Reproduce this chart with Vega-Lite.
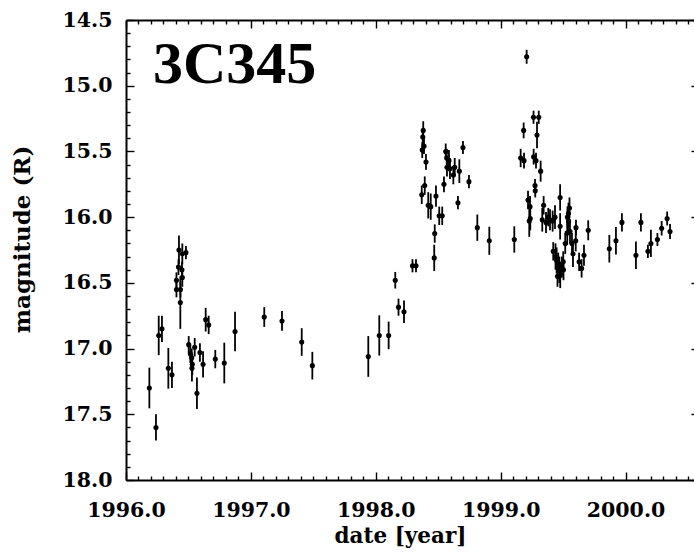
{
  "$schema": "https://vega.github.io/schema/vega-lite/v6.json",
  "width": 568,
  "height": 460,
  "autosize": {"type": "none"},
  "padding": {"left": 126, "top": 20, "right": 0, "bottom": 74},
  "background": "white",
  "config": {"view": {"stroke": null}},
  "datasets": {
    "obs": [
      {"t": 1996.187, "m": 17.30, "e": 0.155},
      {"t": 1996.240, "m": 17.60, "e": 0.10},
      {"t": 1996.262, "m": 16.90, "e": 0.15},
      {"t": 1996.288, "m": 16.85, "e": 0.10},
      {"t": 1996.339, "m": 17.15, "e": 0.155},
      {"t": 1996.368, "m": 17.20, "e": 0.10},
      {"t": 1996.404, "m": 16.48, "e": 0.06},
      {"t": 1996.404, "m": 16.55, "e": 0.06},
      {"t": 1996.420, "m": 16.38, "e": 0.06},
      {"t": 1996.424, "m": 16.25, "e": 0.11},
      {"t": 1996.436, "m": 16.55, "e": 0.06},
      {"t": 1996.435, "m": 16.65, "e": 0.20},
      {"t": 1996.448, "m": 16.40, "e": 0.06},
      {"t": 1996.451, "m": 16.46, "e": 0.07},
      {"t": 1996.451, "m": 16.28, "e": 0.08},
      {"t": 1996.480, "m": 16.27, "e": 0.05},
      {"t": 1996.502, "m": 16.97, "e": 0.065},
      {"t": 1996.515, "m": 17.04, "e": 0.07},
      {"t": 1996.526, "m": 17.07, "e": 0.07},
      {"t": 1996.531, "m": 17.12, "e": 0.08},
      {"t": 1996.528, "m": 17.15, "e": 0.10},
      {"t": 1996.550, "m": 16.99, "e": 0.07},
      {"t": 1996.568, "m": 17.34, "e": 0.12},
      {"t": 1996.592, "m": 17.03, "e": 0.07},
      {"t": 1996.617, "m": 17.12, "e": 0.10},
      {"t": 1996.638, "m": 16.78, "e": 0.09},
      {"t": 1996.662, "m": 16.82, "e": 0.07},
      {"t": 1996.715, "m": 17.08, "e": 0.07},
      {"t": 1996.787, "m": 17.11, "e": 0.155},
      {"t": 1996.873, "m": 16.87, "e": 0.15},
      {"t": 1997.107, "m": 16.76, "e": 0.075},
      {"t": 1997.249, "m": 16.79, "e": 0.075},
      {"t": 1997.407, "m": 16.95, "e": 0.105},
      {"t": 1997.492, "m": 17.13, "e": 0.105},
      {"t": 1997.940, "m": 17.06, "e": 0.155},
      {"t": 1998.028, "m": 16.90, "e": 0.153},
      {"t": 1998.103, "m": 16.90, "e": 0.105},
      {"t": 1998.156, "m": 16.48, "e": 0.063},
      {"t": 1998.182, "m": 16.685, "e": 0.065},
      {"t": 1998.226, "m": 16.72, "e": 0.085},
      {"t": 1998.294, "m": 16.37, "e": 0.05},
      {"t": 1998.322, "m": 16.37, "e": 0.05},
      {"t": 1998.368, "m": 15.83, "e": 0.07},
      {"t": 1998.372, "m": 15.49, "e": 0.06},
      {"t": 1998.376, "m": 15.39, "e": 0.06},
      {"t": 1998.380, "m": 15.34, "e": 0.07},
      {"t": 1998.386, "m": 15.46, "e": 0.06},
      {"t": 1998.392, "m": 15.76, "e": 0.07},
      {"t": 1998.402, "m": 15.58, "e": 0.06},
      {"t": 1998.420, "m": 15.91, "e": 0.10},
      {"t": 1998.440, "m": 15.92, "e": 0.10},
      {"t": 1998.468, "m": 16.31, "e": 0.10},
      {"t": 1998.472, "m": 16.125, "e": 0.07},
      {"t": 1998.482, "m": 15.84, "e": 0.08},
      {"t": 1998.508, "m": 15.99, "e": 0.07},
      {"t": 1998.532, "m": 15.99, "e": 0.07},
      {"t": 1998.546, "m": 15.75, "e": 0.06},
      {"t": 1998.560, "m": 15.50, "e": 0.06},
      {"t": 1998.568, "m": 15.55, "e": 0.07},
      {"t": 1998.570, "m": 15.62, "e": 0.07},
      {"t": 1998.586, "m": 15.57, "e": 0.08},
      {"t": 1998.594, "m": 15.63, "e": 0.08},
      {"t": 1998.621, "m": 15.68, "e": 0.07},
      {"t": 1998.632, "m": 15.62, "e": 0.07},
      {"t": 1998.658, "m": 15.89, "e": 0.05},
      {"t": 1998.669, "m": 15.65, "e": 0.09},
      {"t": 1998.698, "m": 15.47, "e": 0.05},
      {"t": 1998.746, "m": 15.73, "e": 0.05},
      {"t": 1998.813, "m": 16.08, "e": 0.10},
      {"t": 1998.909, "m": 16.18, "e": 0.107},
      {"t": 1999.109, "m": 16.17, "e": 0.10},
      {"t": 1999.160, "m": 15.55, "e": 0.07},
      {"t": 1999.184, "m": 15.34, "e": 0.06},
      {"t": 1999.187, "m": 15.57, "e": 0.06},
      {"t": 1999.208, "m": 14.78, "e": 0.053},
      {"t": 1999.219, "m": 15.87, "e": 0.07},
      {"t": 1999.229, "m": 16.03, "e": 0.12},
      {"t": 1999.235, "m": 15.92, "e": 0.08},
      {"t": 1999.237, "m": 16.01, "e": 0.09},
      {"t": 1999.263, "m": 15.24, "e": 0.05},
      {"t": 1999.264, "m": 15.54, "e": 0.06},
      {"t": 1999.275, "m": 15.76, "e": 0.05},
      {"t": 1999.277, "m": 15.80, "e": 0.05},
      {"t": 1999.283, "m": 15.57, "e": 0.06},
      {"t": 1999.291, "m": 15.375, "e": 0.10},
      {"t": 1999.305, "m": 15.24, "e": 0.05},
      {"t": 1999.320, "m": 15.65, "e": 0.08},
      {"t": 1999.344, "m": 15.91, "e": 0.07},
      {"t": 1999.333, "m": 16.02, "e": 0.09},
      {"t": 1999.363, "m": 16.04, "e": 0.08},
      {"t": 1999.381, "m": 16.00, "e": 0.07},
      {"t": 1999.395, "m": 16.02, "e": 0.08},
      {"t": 1999.416, "m": 16.03, "e": 0.08},
      {"t": 1999.435, "m": 16.00, "e": 0.09},
      {"t": 1999.421, "m": 16.26, "e": 0.07},
      {"t": 1999.439, "m": 16.30, "e": 0.10},
      {"t": 1999.448, "m": 16.33, "e": 0.10},
      {"t": 1999.461, "m": 16.37, "e": 0.10},
      {"t": 1999.469, "m": 16.40, "e": 0.10},
      {"t": 1999.455, "m": 16.45, "e": 0.08},
      {"t": 1999.477, "m": 16.44, "e": 0.10},
      {"t": 1999.476, "m": 15.85, "e": 0.10},
      {"t": 1999.476, "m": 16.07, "e": 0.10},
      {"t": 1999.489, "m": 16.38, "e": 0.08},
      {"t": 1999.503, "m": 16.40, "e": 0.08},
      {"t": 1999.501, "m": 16.34, "e": 0.08},
      {"t": 1999.517, "m": 16.20, "e": 0.08},
      {"t": 1999.535, "m": 16.00, "e": 0.08},
      {"t": 1999.544, "m": 16.03, "e": 0.08},
      {"t": 1999.543, "m": 15.97, "e": 0.08},
      {"t": 1999.551, "m": 15.93, "e": 0.08},
      {"t": 1999.533, "m": 16.12, "e": 0.09},
      {"t": 1999.555, "m": 16.11, "e": 0.09},
      {"t": 1999.571, "m": 16.20, "e": 0.08},
      {"t": 1999.579, "m": 16.28, "e": 0.10},
      {"t": 1999.603, "m": 16.08, "e": 0.06},
      {"t": 1999.601, "m": 16.18, "e": 0.08},
      {"t": 1999.628, "m": 16.34, "e": 0.07},
      {"t": 1999.648, "m": 16.39, "e": 0.07},
      {"t": 1999.667, "m": 16.29, "e": 0.08},
      {"t": 1999.701, "m": 16.10, "e": 0.076},
      {"t": 1999.870, "m": 16.24, "e": 0.105},
      {"t": 1999.923, "m": 16.18, "e": 0.105},
      {"t": 1999.971, "m": 16.04, "e": 0.07},
      {"t": 2000.083, "m": 16.29, "e": 0.105},
      {"t": 2000.123, "m": 16.04, "e": 0.07},
      {"t": 2000.179, "m": 16.26, "e": 0.05},
      {"t": 2000.203, "m": 16.20, "e": 0.104},
      {"t": 2000.255, "m": 16.17, "e": 0.05},
      {"t": 2000.289, "m": 16.085, "e": 0.055},
      {"t": 2000.333, "m": 16.01, "e": 0.053},
      {"t": 2000.356, "m": 16.11, "e": 0.057}
    ]
  },
  "layer": [
    {
      "data": {"name": "obs"},
      "mark": {"type": "errorbar", "color": "black", "thickness": 1.8},
      "encoding": {
        "x": {
          "field": "t", "type": "quantitative",
          "scale": {"domain": [1996, 2000.548], "nice": false, "zero": false},
          "axis": {
            "orient": "bottom", "title": "date [year]", "tickCount": 45,
            "labelExpr": "abs(datum.value - round(datum.value)) < 0.001 ? format(round(datum.value), '.1f') : ''",
            "labelFlush": false, "labelOverlap": false,
            "labelFont": "DejaVu Serif", "labelFontWeight": "bold", "labelFontSize": 20.5, "labelColor": "black",
            "labelPadding": 28,
            "tickSize": {"condition": {"test": "abs(datum.value - round(datum.value)) < 0.001", "value": -8}, "value": -4},
            "tickColor": "black", "tickWidth": 1.4,
            "domainColor": "black", "domainWidth": 2, "grid": false,
            "titleFont": "DejaVu Serif", "titleFontWeight": "bold", "titleFontSize": 21.5, "titleColor": "black",
            "titleX": 274, "titleY": 62, "titleBaseline": "alphabetic", "titleAlign": "center"
          }
        },
        "y": {
          "field": "m", "type": "quantitative",
          "scale": {"domain": [14.5, 18], "reverse": true, "nice": false, "zero": false},
          "axis": {
            "orient": "left", "title": "magnitude (R)", "tickCount": 35,
            "labelExpr": "abs(datum.value * 2 - round(datum.value * 2)) < 0.001 ? format(datum.value, '.1f') : ''",
            "labelFlush": false, "labelOverlap": false,
            "labelFont": "DejaVu Serif", "labelFontWeight": "bold", "labelFontSize": 20.5, "labelColor": "black",
            "labelPadding": 22,
            "tickSize": {"condition": {"test": "abs(datum.value * 2 - round(datum.value * 2)) < 0.001", "value": -8}, "value": -4},
            "tickColor": "black", "tickWidth": 1.4,
            "domainColor": "black", "domainWidth": 2, "grid": false,
            "titleFont": "DejaVu Serif", "titleFontWeight": "bold", "titleFontSize": 23, "titleColor": "black",
            "titleX": -97, "titleY": 219, "titleAngle": 270, "titleBaseline": "alphabetic", "titleAlign": "center"
          }
        },
        "yError": {"field": "e"}
      }
    },
    {
      "data": {"name": "obs"},
      "mark": {"type": "point", "filled": true, "color": "black", "size": 26, "opacity": 1},
      "encoding": {
        "x": {
          "field": "t", "type": "quantitative",
          "scale": {"domain": [1996, 2000.548], "nice": false, "zero": false},
          "axis": {
            "orient": "top", "title": null, "tickCount": 45, "labels": false,
            "tickSize": {"condition": {"test": "abs(datum.value - round(datum.value)) < 0.001", "value": -8}, "value": -4},
            "tickColor": "black", "tickWidth": 1.4,
            "domainColor": "black", "domainWidth": 2, "grid": false
          }
        },
        "y": {
          "field": "m", "type": "quantitative",
          "scale": {"domain": [14.5, 18], "reverse": true, "nice": false, "zero": false},
          "axis": {
            "orient": "right", "title": null, "tickCount": 35, "labels": false, "domain": false,
            "tickSize": {"condition": {"test": "abs(datum.value * 2 - round(datum.value * 2)) < 0.001", "value": -3}, "value": 0},
            "tickColor": "black", "tickWidth": 1.4, "grid": false
          }
        }
      }
    },
    {
      "data": {"values": [{"t": 1996.216, "m": 14.979, "label": "3C345"}]},
      "mark": {"type": "text", "font": "Liberation Serif", "fontSize": 60, "fontWeight": "bold", "align": "left", "baseline": "alphabetic", "color": "black"},
      "encoding": {
        "x": {"field": "t", "type": "quantitative", "axis": null},
        "y": {"field": "m", "type": "quantitative", "axis": null},
        "text": {"field": "label"}
      }
    }
  ],
  "resolve": {"axis": {"x": "independent", "y": "independent"}}
}
